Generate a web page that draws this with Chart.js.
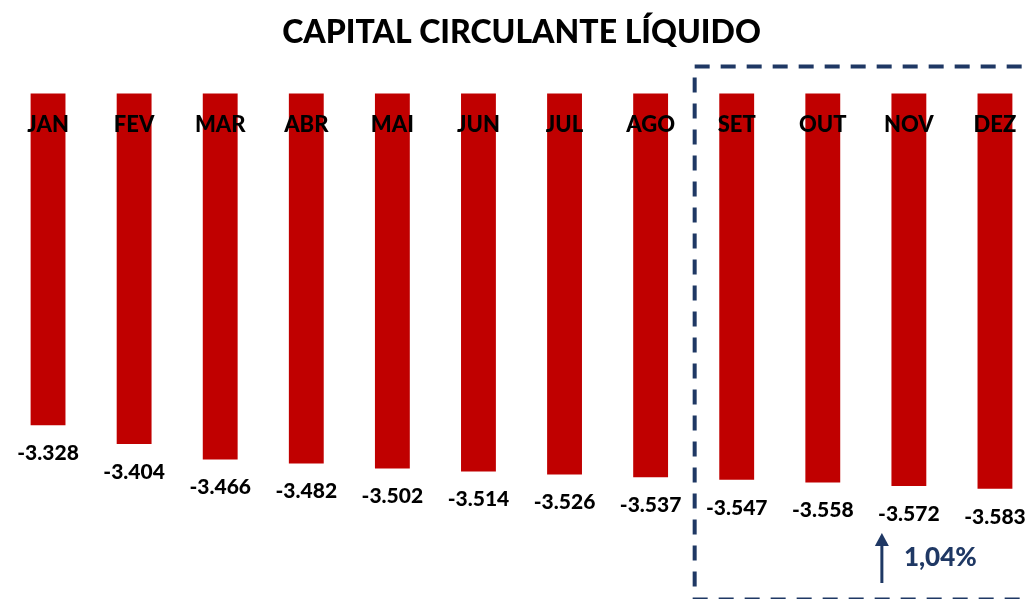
<!DOCTYPE html>
<html>
<head>
<meta charset="utf-8">
<script src="https://cdn.jsdelivr.net/npm/chart.js@4.4.0/dist/chart.umd.min.js"></script>
<style>
  html, body { margin: 0; padding: 0; background: #fff; overflow: hidden; }
  #wrap { width: 1040px; height: 599px; position: relative; }
</style>
</head>
<body>
<div id="wrap"><canvas id="myChart"></canvas></div>
<script>
// dados do gráfico
const meses = ['JAN', 'FEV', 'MAR', 'ABR', 'MAI', 'JUN', 'JUL', 'AGO', 'SET', 'OUT', 'NOV', 'DEZ'];
const valores = [-3.328, -3.404, -3.466, -3.482, -3.502, -3.514, -3.526, -3.537, -3.547, -3.558, -3.572, -3.583];
const titulo = 'CAPITAL CIRCULANTE LÍQUIDO';
const variacao = '1,04%';
const inicioDestaque = 8; // SET em diante fica dentro do quadro tracejado

const fonte = 'Lato, "Open Sans", sans-serif';
const azul = '#1F3864';

// Plugin para desenhar rótulos, quadro tracejado e seta
const extras = {
  id: 'extras',
  afterDatasetsDraw(chart) {
    const ctx = chart.ctx;
    const area = chart.chartArea;
    const meta = chart.getDatasetMeta(0);
    ctx.save();

    // nomes dos meses dentro das barras
    ctx.fillStyle = '#000';
    ctx.textAlign = 'center';
    ctx.textBaseline = 'middle';
    ctx.font = '900 22px ' + fonte;
    meta.data.forEach((bar, i) => {
      ctx.fillText(meses[i], bar.x, area.top + 32);
    });

    // valores abaixo das barras
    ctx.font = '900 21px ' + fonte;
    meta.data.forEach((bar, i) => {
      ctx.fillText(valores[i].toFixed(3), bar.x, bar.y + 28);
    });

    // quadro tracejado
    const x0 = (meta.data[inicioDestaque - 1].x + meta.data[inicioDestaque].x) / 2 + 1;
    ctx.strokeStyle = azul;
    ctx.lineWidth = 4;
    ctx.setLineDash([15, 11]);
    ctx.strokeRect(x0, area.top - 27, chart.width, 533);
    ctx.setLineDash([]);

    // seta e variação
    const ax = meta.data[10].x - 27;
    ctx.lineWidth = 3;
    ctx.beginPath();
    ctx.moveTo(ax, 583);
    ctx.lineTo(ax, 544);
    ctx.stroke();
    ctx.fillStyle = azul;
    ctx.beginPath();
    ctx.moveTo(ax, 533);
    ctx.lineTo(ax - 7, 546);
    ctx.lineTo(ax + 7, 546);
    ctx.closePath();
    ctx.fill();
    ctx.font = '900 26px ' + fonte;
    ctx.textAlign = 'left';
    ctx.fillText(variacao, ax + 22, 558);

    ctx.restore();
  }
};

let ctx = document.getElementById('myChart').getContext('2d');
let myChart = new Chart(ctx, {
  type: 'bar',
  data: {
    labels: meses,
    datasets: [{
      data: valores,
      backgroundColor: '#C00000',
      borderWidth: 0,
      categoryPercentage: 1,
      barPercentage: 0.405
    }]
  },
  options: {
    responsive: true,
    maintainAspectRatio: false,
    animation: false,
    layout: { padding: { left: 5, right: 2, bottom: 6 } },
    scales: {
      x: { display: false },
      y: { display: false, min: -4, max: -2 }
    },
    plugins: {
      legend: { display: false },
      tooltip: { enabled: false },
      title: {
        display: true,
        text: titulo,
        color: '#000',
        font: { family: fonte, size: 32, weight: '900' },
        padding: { top: 13, bottom: 42 }
      }
    }
  },
  plugins: [extras]
});
</script>
</body>
</html>
